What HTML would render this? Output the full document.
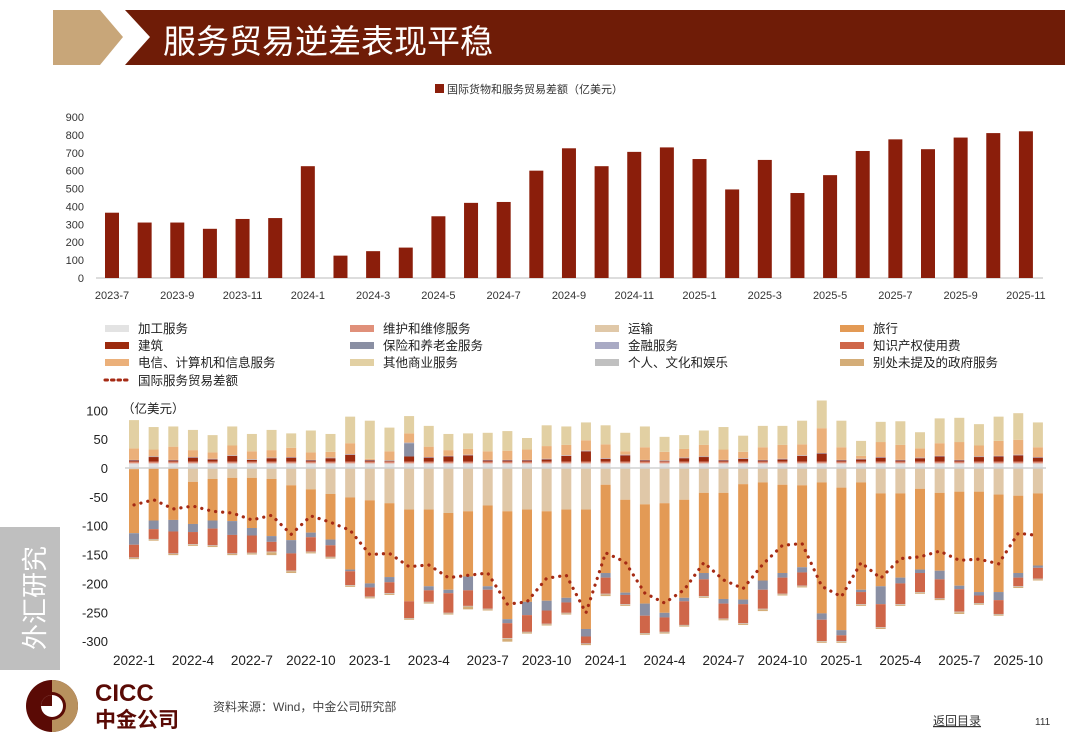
<!DOCTYPE html>
<html><head><meta charset="utf-8">
<style>
body{margin:0;width:1080px;height:755px;background:#fff;overflow:hidden;font-family:"Liberation Sans","Noto Sans CJK SC",sans-serif;position:relative}
.abs{position:absolute}
svg text{font-family:"Liberation Sans","Noto Sans CJK SC",sans-serif}
</style></head><body>
<svg class="abs" style="left:0;top:0" width="1080" height="755">
 <polygon points="53,10 100,10 123,37 100,65 53,65" fill="#c8a679"/>
 <polygon points="125,10 1065,10 1065,65 125,65 150,37" fill="#6f1c07"/>
 <text x="163" y="53" font-size="33" fill="#fff">服务贸易逆差表现平稳</text>
 <rect x="0" y="527" width="60" height="143" fill="#bfbfbf"/>
 <text transform="translate(44,598) rotate(-90)" text-anchor="middle" font-size="26" fill="#fff">外汇研究</text>
 <g>
  <circle cx="52" cy="706" r="26" fill="#5a0a05"/>
  <path d="M52,680 A26,26 0 0 1 52,732 L52,720 A14,14 0 0 0 52,692 Z" fill="#b8915e"/>
  <circle cx="52" cy="706" r="11" fill="#fff"/>
  <path d="M52,706 L52,695 A11,11 0 0 0 41,706 Z" fill="#5a0a05"/>
  <text x="95" y="701" font-size="24" font-weight="bold" fill="#5a0a05">CICC</text>
  <text x="95" y="727" font-size="21" font-weight="bold" fill="#5a0a05">中金公司</text>
 </g>
 <text x="213" y="711" font-size="12" fill="#444">资料来源：Wind，中金公司研究部</text>
 <text x="933" y="725" font-size="12" fill="#333" text-decoration="underline">返回目录</text>
 <text x="1035" y="725" font-size="10" fill="#333">111</text>
</svg>
<svg id="top" class="abs" style="left:0;top:75" width="1080" height="230"></svg>
<svg id="bot" class="abs" style="left:0;top:315" width="1080" height="360"></svg>
<script>
// top chart data
const topCats=[];for(let i=0;i<29;i++){const m=7+i;topCats.push((2023+Math.floor((m-1)/12))+'-'+(((m-1)%12)+1));}
const topValues=[365,310,310,275,330,335,625,125,150,170,345,420,425,600,725,625,705,730,665,495,660,475,575,710,775,720,785,810,820];
const topTicks=[0,100,200,300,400,500,600,700,800,900];
// bottom chart data
const botCats=[];for(let i=0;i<47;i++){botCats.push((2022+Math.floor(i/12))+'-'+((i%12)+1));}
const procV=Array(47).fill(8);
const repairV=Array(47).fill(3);
const financeV=Array(47).fill(1);
const personalV=Array(47).fill(-1);
const govV=[-2,-2,-2,-2,-2,-2,-2,-5,-3,-2,-2,-2,-2,-2,-2,-2,-2,-5,-2,-5,-2,-2,-2,-2,-3,-2,-2,-2,-2,-2,-2,-2,-3,-2,-2,-2,-2,-2,-2,-2,-2,-2,-3,-2,-2,-2,-2];
const constructionV=[2,8,2,7,4,10,3,6,7,2,6,12,2,1,9,7,9,11,2,2,2,4,10,18,5,11,2,1,6,8,2,5,2,4,10,14,2,4,7,2,6,9,2,8,9,11,7];
const telecomV=[20,12,23,12,11,17,14,13,16,13,10,19,2,16,16,18,10,10,15,16,18,22,18,18,24,6,22,15,15,20,18,11,22,24,19,43,22,5,26,26,16,22,31,19,26,26,17];
const otherV=[49,39,35,35,30,33,30,35,25,38,31,46,66,41,30,36,28,27,32,34,20,36,32,31,33,32,36,26,24,25,39,28,37,33,41,48,46,26,35,41,28,43,42,37,42,46,43];
const transportV=[-2,-1,-1,-24,-19,-17,-17,-19,-30,-37,-45,-51,-56,-61,-72,-72,-78,-75,-65,-75,-72,-75,-72,-72,-29,-55,-63,-61,-55,-43,-43,-28,-25,-29,-30,-25,-34,-25,-44,-44,-36,-43,-41,-41,-46,-48,-44];
const travelV=[-111,-90,-89,-73,-72,-75,-87,-99,-95,-75,-79,-125,-144,-128,-159,-133,-133,-113,-140,-187,-160,-155,-153,-207,-153,-161,-172,-190,-170,-139,-184,-200,-170,-153,-142,-227,-247,-186,-161,-146,-140,-135,-163,-174,-169,-134,-125];
const insuranceV=[-20,-15,-20,-14,-14,-24,-13,-10,-23,-8,-10,-3,-7,-9,23,-7,-6,-24,-6,-7,-23,-17,-8,-13,-8,-4,-21,-8,-6,-11,-8,-8,-16,-8,-9,-11,-9,-4,-31,-10,-6,-15,-6,-6,-14,-8,-4];
const ipV=[-22,-17,-38,-21,-29,-32,-30,-17,-30,-25,-20,-24,-16,-19,-29,-20,-34,-27,-33,-26,-29,-23,-18,-12,-28,-16,-30,-25,-41,-29,-26,-33,-33,-28,-23,-37,-10,-21,-40,-36,-33,-33,-39,-13,-24,-15,-19];
const netV=[-64,-55,-71,-66,-75,-78,-90,-82,-115,-83,-94,-108,-150,-148,-171,-168,-190,-186,-182,-236,-232,-191,-186,-251,-147,-163,-217,-234,-211,-164,-194,-209,-167,-134,-131,-205,-223,-164,-191,-157,-154,-144,-160,-158,-166,-113,-117];
const botTicks=[100,50,0,-50,-100,-150,-200,-250,-300];
const NS='http://www.w3.org/2000/svg';
function mk(p,t,a,txt){const e=document.createElementNS(NS,t);for(const k in a)e.setAttribute(k,a[k]);if(txt!==undefined)e.textContent=txt;p.appendChild(e);return e;}

// TOP
const T=document.getElementById('top');
const tx=i=>112+i*32.64, ty=v=>203-v*0.1789;
let lg=mk(T,'rect',{x:435,y:9,width:9,height:9,fill:'#8b1e0b'});

lg=mk(T,'text',{x:447,y:18,'font-size':11,fill:'#333'},'国际货物和服务贸易差额（亿美元）');

topTicks.forEach(v=>{const t=mk(T,'text',{x:84,y:ty(v)+4,'font-size':11,'text-anchor':'end',fill:'#333'},v);
 });
let ax=mk(T,'line',{x1:96,x2:1043,y1:ty(0),y2:ty(0),stroke:'#bbb'});

topValues.forEach((v,i)=>{const r=mk(T,'rect',{x:tx(i)-7,y:ty(v),width:14,height:ty(0)-ty(v),fill:'#8b1e0b'});
 });
topCats.forEach((c,i)=>{if(i%2)return;const t=mk(T,'text',{x:tx(i),y:224,'font-size':11,'text-anchor':'middle',fill:'#333'},c);
 });

// BOTTOM
const B=document.getElementById('bot');
const bx=i=>134+i*19.65, by=v=>153-v*0.577;
const series=[
 ['加工服务',procV,'#e3e3e3'],['维修和维修服务',repairV,'#e0907a'],['运输',transportV,'#e0c8a8'],['旅行',travelV,'#e39a55'],
 ['建筑',constructionV,'#9c2a0e'],['保险和养老金服务',insuranceV,'#8a8fa3'],['金融服务',financeV,'#a9aac4'],['知识产权使用费',ipV,'#cf6649'],
 ['电信、计算机和信息服务',telecomV,'#ebb07a'],['其他商业服务',otherV,'#e2d0a3'],['个人、文化和娱乐',personalV,'#c0c0c0'],['别处未提及的政府服务',govV,'#d4ad78']];
series[1][0]='维护和维修服务';
const legX=[105,350,595,840];
series.forEach((s,k)=>{const x=legX[k%4],y=10+Math.floor(k/4)*17;
 const r=mk(B,'rect',{x:x,y:y,width:24,height:7,fill:s[2]});
 
 const t=mk(B,'text',{x:x+33,y:y+8,'font-size':12.5,fill:'#222'},s[0]);
 });
let ld=mk(B,'line',{x1:105,x2:129,y1:65,y2:65,stroke:'#a52a14','stroke-width':3,'stroke-dasharray':'2.5 4','stroke-linecap':'round'});

ld=mk(B,'text',{x:138,y:70,'font-size':12.5,fill:'#222'},'国际服务贸易差额');

botTicks.forEach(v=>{const t=mk(B,'text',{x:108,y:by(v)+5,'font-size':13,'text-anchor':'end',fill:'#222'},v);
 });
let un=mk(B,'text',{x:122,y:98,'font-size':12.5,fill:'#222'},'（亿美元）');

const posOrder=[procV,repairV,constructionV,insuranceV,financeV,telecomV,otherV];
const posCol=['#e3e3e3','#e0907a','#9c2a0e','#8a8fa3','#a9aac4','#ebb07a','#e2d0a3'];
const negOrder=[transportV,travelV,insuranceV,financeV,ipV,personalV,govV];
const negCol=['#e0c8a8','#e39a55','#8a8fa3','#a9aac4','#cf6649','#c0c0c0','#d4ad78'];
for(let i=0;i<47;i++){
 let up=0,dn=0;
 posOrder.forEach((a,k)=>{const v=a[i];if(v>0){const r=mk(B,'rect',{x:bx(i)-5,y:by(up+v),width:10,height:v*0.577,fill:posCol[k]});
  up+=v;}});
 negOrder.forEach((a,k)=>{const v=a[i];if(v<0){const r=mk(B,'rect',{x:bx(i)-5,y:by(dn),width:10,height:-v*0.577,fill:negCol[k]});
  dn+=v;}});
}
ax=mk(B,'line',{x1:125,x2:1046,y1:by(0),y2:by(0),stroke:'#d0d0d0','stroke-width':1.5});

const pts=netV.map((v,i)=>bx(i)+','+by(v)).join(' ');
const pl=mk(B,'polyline',{points:pts,fill:'none',stroke:'#a52a14','stroke-width':3.2,'stroke-dasharray':'0.1 7','stroke-linecap':'round'});

botCats.forEach((c,i)=>{if(i%3)return;const t=mk(B,'text',{x:bx(i),y:350,'font-size':13.5,'text-anchor':'middle',fill:'#222'},c);
 });
</script>
</body></html>
